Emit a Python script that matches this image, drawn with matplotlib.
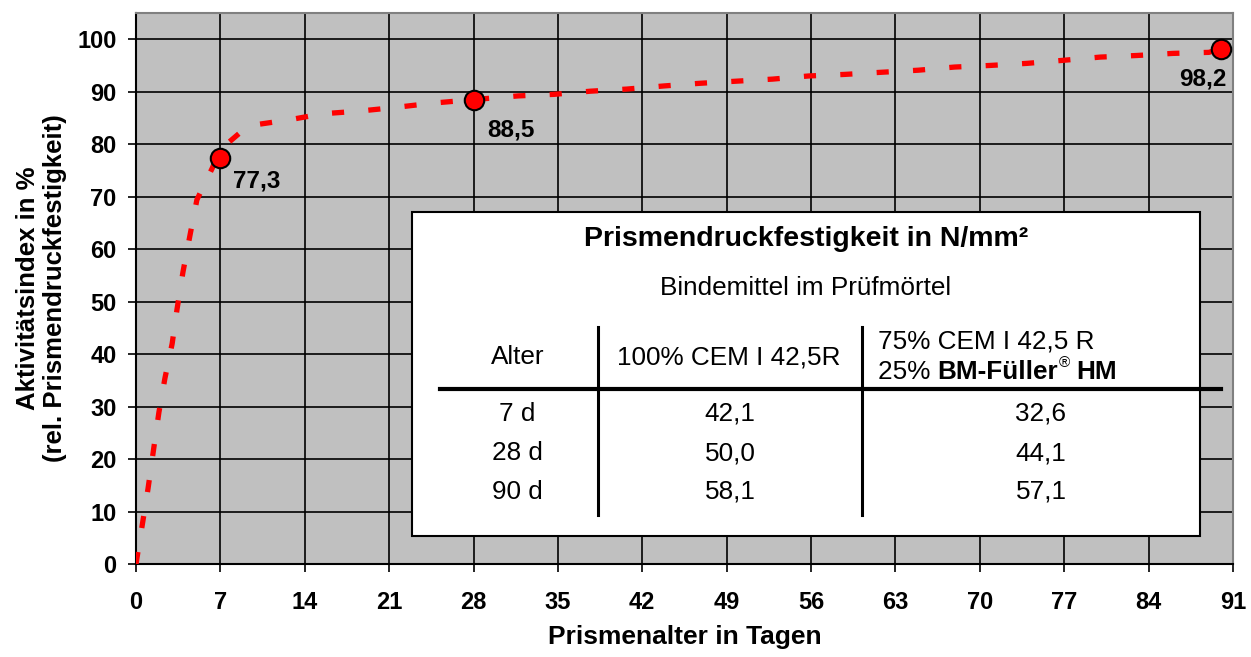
import matplotlib
matplotlib.use("Agg")
from matplotlib import pyplot as plt
from matplotlib.patches import Rectangle
from matplotlib.lines import Line2D
from matplotlib.text import Annotation

plt.rcParams['font.family'] = ['Liberation Sans', 'DejaVu Sans']

# curve
days = [0, 0.6, 1.0, 1.45, 1.9, 2.4, 3.0, 3.4, 3.9, 4.5, 5.05, 6.3, 7, 9.3, 12.6, 15.5, 18.5,
        21.5, 24.5, 28, 31.7, 34.7, 37.7, 40.7, 43.8, 46.75, 49.75, 52.8, 55.8, 58.8, 61.8,
        64.9, 67.9, 70.8, 73.9, 77, 80, 83, 86, 89, 90]
index = [0, 8.6, 14.4, 21.7, 28.9, 35.4, 42, 48.5, 55.7, 62.9, 69.4, 75.3, 79, 83.5, 84.6,
         85.8, 86.3, 87, 87.8, 88.5, 89.2, 89.5, 90.1, 90.5, 91.1, 91.6, 92, 92.4, 93, 93.3,
         93.7, 94.1, 94.7, 95, 95.4, 96, 96.6, 96.9, 97.3, 97.5, 98.2]

mark_days = [7, 28, 90]
mark_vals = [77.3, 88.5, 98.2]
mark_labels = ['77,3', '88,5', '98,2']

xticks = list(range(0, 92, 7))
yticks = list(range(0, 101, 10))

tab_head = ['Alter', '100% CEM I 42,5R']
tab_age = ['7 d', '28 d', '90 d']
tab_cem = ['42,1', '50,0', '58,1']
tab_mix = ['32,6', '44,1', '57,1']

W, H = 1251, 657
fig = plt.figure(figsize=(W / 100, H / 100), dpi=100)
ax = fig.add_axes([136 / W, 1 - 564 / H, (1233 - 136) / W, (564 - 13) / H])
ax.set_facecolor('#c0c0c0')
ax.set_xlim(0, 91)
ax.set_ylim(0, 105)
ax.set_xticks(xticks)
ax.set_yticks(yticks)
ax.grid(True, color='black', lw=1.2)
ax.set_axisbelow(True)
for s in ['top', 'right']:
    ax.spines[s].set_color('#808080')
    ax.spines[s].set_linewidth(1.5)
for s in ['left', 'bottom']:
    ax.spines[s].set_color('black')
    ax.spines[s].set_linewidth(1.5)
ax.tick_params(axis='both', direction='out', length=5.5, width=1.2, labelsize=17)
ax.tick_params(axis='x', pad=14)
ax.tick_params(axis='y', pad=8.5)
for lab in ax.get_xticklabels() + ax.get_yticklabels():
    lab.set_fontweight('bold')

ax.plot(days, index, color='red', lw=3.8, dashes=(2.3, 4.6), dash_capstyle='butt', zorder=3)
ax.plot(mark_days, mark_vals, 'o', ms=14, mfc='red', mec='black', mew=1.5, zorder=5,
        clip_on=False)
offs = [(9, -16.5, 'left'), (10, -22, 'left'), (4, -22, 'right')]
for d, v, t, o in zip(mark_days, mark_vals, mark_labels, offs):
    ax.annotate(t, (d, v), xytext=(o[0], o[1]), textcoords='offset points', ha=o[2],
                va='center', fontsize=17.5, fontweight='bold', zorder=6)

ax.set_xlabel('Prismenalter in Tagen', fontsize=19, fontweight='bold', labelpad=8)
ax.set_ylabel('Aktivitätsindex in %\n(rel. Prismendruckfestigkeit)', fontsize=18.5,
              fontweight='bold', labelpad=7, linespacing=1.2)


def fx(px):
    return px / W


def fy(py):
    return 1 - py / H


# table box
fig.patches.append(Rectangle((fx(412), fy(536)), fx(1200) - fx(412), fy(212) - fy(536),
                             transform=fig.transFigure, facecolor='white', edgecolor='black',
                             lw=1.5, zorder=10))
fig.lines.append(Line2D([fx(440), fx(1221)], [fy(389), fy(389)], transform=fig.transFigure,
                        color='black', lw=3, zorder=11))
for vx in [598, 862]:
    fig.lines.append(Line2D([fx(vx), fx(vx)], [fy(327), fy(515)], transform=fig.transFigure,
                            color='black', lw=2.2, zorder=11))

fs = 18.8
kw = dict(fontsize=fs, zorder=12)
fig.text(fx(806), fy(239), 'Prismendruckfestigkeit in N/mm²', ha='center', va='center',
         fontsize=20.5, fontweight='bold', zorder=12)
fig.text(fx(806), fy(288), 'Bindemittel im Prüfmörtel', ha='center', va='center', **kw)
fig.text(fx(518), fy(357), tab_head[0], ha='center', va='center', **kw)
fig.text(fx(729), fy(357), tab_head[1], ha='center', va='center', **kw)
fig.text(fx(878), fy(342), '75% CEM I 42,5 R', ha='left', va='center', **kw)
t1 = fig.text(fx(878), fy(372), '25% ', ha='left', va='center', **kw)
t2 = fig.add_artist(Annotation('BM-Füller', xy=(1, 0.5), xycoords=t1, va='center', ha='left',
                               fontweight='bold', annotation_clip=False, **kw))
t3 = fig.add_artist(Annotation('®', xy=(1, 1), xycoords=t2, xytext=(0.5, 3),
                               textcoords='offset points', va='top', ha='left', fontsize=11,
                               annotation_clip=False, zorder=12))
t4 = fig.add_artist(Annotation('HM', xy=(1, 0.5), xycoords=t2, xytext=(13, 0),
                               textcoords='offset points', va='center', ha='left',
                               fontweight='bold', annotation_clip=False, **kw))

rows_y = [414, 453, 492]
for a, c, m, ry in zip(tab_age, tab_cem, tab_mix, rows_y):
    fig.text(fx(517), fy(ry), a, ha='center', va='center', **kw)
    fig.text(fx(730), fy(ry), c, ha='center', va='center', **kw)
    fig.text(fx(1041), fy(ry), m, ha='center', va='center', **kw)

fig.savefig('out.png', dpi=100)
